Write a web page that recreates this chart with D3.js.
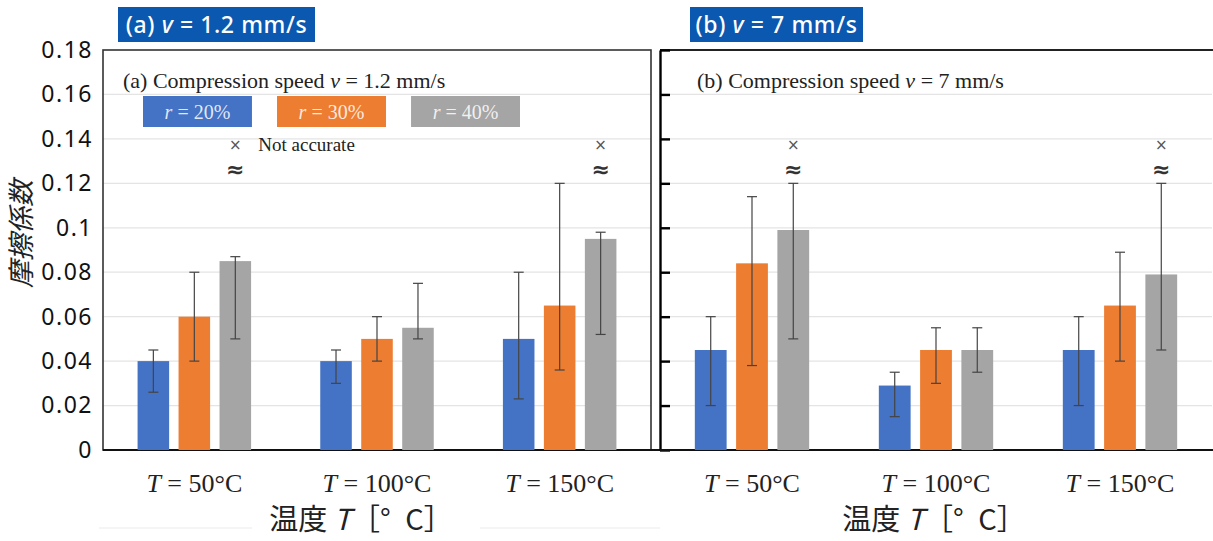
<!DOCTYPE html>
<html>
<head>
<meta charset="utf-8">
<script src="https://cdn.jsdelivr.net/npm/d3@7"></script>
<style>
  body { margin: 0; background: #fff; }
  svg { display: block; }
</style>
</head>
<body>
<svg id="chart"></svg>
<script>
// categories and series
const temps = ['50°C', '100°C', '150°C'];
const ratios = ['20%', '30%', '40%'];
const yTicks = [0, 0.02, 0.04, 0.06, 0.08, 0.1, 0.12, 0.14, 0.16, 0.18];

// (a) v = 1.2 mm/s : rows = r20, r30, r40 ; cols = 50, 100, 150 °C
const meanA = [[0.040, 0.040, 0.050], [0.060, 0.050, 0.065], [0.085, 0.055, 0.095]];
const lowA  = [[0.026, 0.030, 0.023], [0.040, 0.040, 0.036], [0.050, 0.050, 0.052]];
const highA = [[0.045, 0.045, 0.080], [0.080, 0.060, 0.120], [0.087, 0.075, 0.098]];
const flagA = [[false, false, false], [false, false, false], [true, false, true]];

// (b) v = 7 mm/s
const meanB = [[0.045, 0.029, 0.045], [0.084, 0.045, 0.065], [0.099, 0.045, 0.079]];
const lowB  = [[0.020, 0.015, 0.020], [0.038, 0.030, 0.040], [0.050, 0.035, 0.045]];
const highB = [[0.060, 0.035, 0.060], [0.114, 0.055, 0.089], [0.120, 0.055, 0.120]];
const flagB = [[false, false, false], [false, false, false], [true, false, true]];

const colors = ['#4472C4', '#ED7D31', '#A5A5A5'];

const svg = d3.select('#chart').attr('width', 1213).attr('height', 541);

class Panel {
  constructor(_config, _mean, _low, _high, _flags) {
    this.config = {
      left: _config.left,
      right: _config.right,
      top: 50,
      bottom: 450,
      boxed: _config.boxed,
      badge: _config.badge,
      badgeX: _config.badgeX,
      badgeW: _config.badgeW,
      title: _config.title,
      titleX: _config.titleX,
      xTitleX: _config.xTitleX,
      legend: _config.legend || false
    };
    this.mean = _mean;
    this.low = _low;
    this.high = _high;
    this.flags = _flags;
    this.initVis();
  }

  initVis() {
    let vis = this;
    const c = vis.config;

    vis.x0 = d3.scaleBand().domain(temps).range([c.left, c.right])
        .paddingInner(0.327).paddingOuter(0.1635);
    vis.x1 = d3.scaleBand().domain(ratios).range([0, vis.x0.bandwidth()])
        .paddingInner(0.23).paddingOuter(0.115);
    vis.y = d3.scaleLinear().domain([0, 0.18]).range([c.bottom, c.top]);

    vis.g = svg.append('g');

    // gridlines
    vis.g.append('g').selectAll('line')
      .data(yTicks.filter(d => d > 0 && d < 0.18))
      .join('line')
        .attr('x1', c.left).attr('x2', c.right)
        .attr('y1', d => vis.y(d)).attr('y2', d => vis.y(d))
        .attr('stroke', '#e4e4e4').attr('stroke-width', 1.2);

    // frame
    if (c.boxed) {
      vis.g.append('rect')
        .attr('x', c.left).attr('y', c.top)
        .attr('width', c.right - c.left).attr('height', c.bottom - c.top)
        .attr('fill', 'none').attr('stroke', '#333').attr('stroke-width', 1.6);

      vis.yAxis = d3.axisLeft(vis.y).tickValues(yTicks).tickSize(0).tickPadding(10)
        .tickFormat(d => d === 0 ? '0' : String(+d.toFixed(2)));
      vis.yAxisG = vis.g.append('g')
        .attr('transform', `translate(${c.left},0)`)
        .call(vis.yAxis);
      vis.yAxisG.select('.domain').remove();
      vis.yAxisG.selectAll('text')
        .attr('font-family', '"Noto Sans", sans-serif')
        .attr('font-size', 23).attr('letter-spacing', 1.5).attr('fill', '#111');
    } else {
      vis.g.append('line')
        .attr('x1', c.left).attr('x2', c.right + 10)
        .attr('y1', c.top).attr('y2', c.top)
        .attr('stroke', '#222').attr('stroke-width', 2);
      vis.yAxis = d3.axisRight(vis.y).tickValues(yTicks).tickSize(10).tickSizeOuter(0).tickFormat('');
      vis.yAxisG = vis.g.append('g')
        .attr('transform', `translate(${c.left},0)`)
        .call(vis.yAxis);
      vis.yAxisG.selectAll('line, path').attr('stroke', '#000').attr('stroke-width', 2.4);
    }

    // x axis
    vis.xAxis = d3.axisBottom(vis.x0).tickSize(0).tickPadding(24);
    vis.xAxisG = vis.g.append('g')
      .attr('transform', `translate(0,${c.bottom})`)
      .call(vis.xAxis);
    vis.xAxisG.select('.domain').attr('stroke', '#111').attr('stroke-width', 2)
      .attr('d', `M${c.left},0H${c.right + 10}`);
    vis.xAxisG.selectAll('.tick text').each(function(d) {
      const t = d3.select(this).text(null)
        .attr('font-family', '"Liberation Serif", serif')
        .attr('font-size', 26).attr('fill', '#222');
      t.append('tspan').attr('font-style', 'italic').text('T');
      t.append('tspan').text(' = ' + d);
    });

    vis.renderVis();
  }

  renderVis() {
    let vis = this;
    const c = vis.config;

    const cells = [];
    ratios.forEach((r, s) => temps.forEach((t, i) => {
      cells.push({ r, t, s, mean: vis.mean[s][i], low: vis.low[s][i], high: vis.high[s][i],
                   flag: vis.flags[s][i] });
    }));
    const cx = d => vis.x0(d.t) + vis.x1(d.r) + vis.x1.bandwidth() / 2;

    vis.g.append('g').selectAll('rect')
      .data(cells)
      .join('rect')
        .attr('x', d => vis.x0(d.t) + vis.x1(d.r))
        .attr('width', vis.x1.bandwidth())
        .attr('y', d => vis.y(d.mean))
        .attr('height', d => vis.y(0) - vis.y(d.mean))
        .attr('fill', d => colors[d.s]);

    const err = vis.g.append('g').attr('stroke', '#444').attr('stroke-width', 1.2);
    err.selectAll('.stem').data(cells).join('line').attr('class', 'stem')
      .attr('x1', cx).attr('x2', cx)
      .attr('y1', d => vis.y(d.low)).attr('y2', d => vis.y(d.high));
    ['low', 'high'].forEach(k => {
      err.selectAll('.cap-' + k).data(cells).join('line').attr('class', 'cap-' + k)
        .attr('x1', d => cx(d) - 5).attr('x2', d => cx(d) + 5)
        .attr('y1', d => vis.y(d[k])).attr('y2', d => vis.y(d[k]));
    });

    // not-accurate marks
    const flagged = cells.filter(d => d.flag);
    vis.g.append('g').selectAll('text.x').data(flagged).join('text').attr('class', 'x')
      .attr('x', cx).attr('y', vis.y(0.1375)).attr('dy', '0.35em')
      .attr('text-anchor', 'middle').attr('font-family', '"DejaVu Sans", sans-serif')
      .attr('font-size', 15).attr('fill', '#555').text('×');
    vis.g.append('g').selectAll('text.approx').data(flagged).join('text').attr('class', 'approx')
      .attr('x', cx).attr('y', vis.y(0.1262)).attr('dy', '0.35em')
      .attr('text-anchor', 'middle').attr('font-family', '"DejaVu Sans", sans-serif')
      .attr('font-size', 22).attr('font-weight', 'bold').attr('fill', '#333').text('≈');

    // inner title
    const ti = vis.g.append('text')
      .attr('x', c.titleX).attr('y', 88)
      .attr('font-family', '"Liberation Serif", serif')
      .attr('font-size', 22).attr('fill', '#222');
    ti.append('tspan').text(c.title[0]);
    ti.append('tspan').attr('font-style', 'italic').text('v');
    ti.append('tspan').text(c.title[1]);

    if (c.legend) {
      const lx = d3.scaleBand().domain(ratios).range([143, 520]).paddingInner(0.187);
      const lg = vis.g.append('g').selectAll('g').data(ratios).join('g')
        .attr('transform', d => `translate(${lx(d)},96)`);
      lg.append('rect').attr('width', lx.bandwidth()).attr('height', 31)
        .attr('fill', (d, i) => colors[i]);
      const lt = lg.append('text').attr('x', lx.bandwidth() / 2).attr('y', 23)
        .attr('text-anchor', 'middle')
        .attr('font-family', '"Liberation Serif", serif').attr('font-size', 20)
        .attr('fill', 'rgba(255,255,255,0.85)');
      lt.append('tspan').attr('font-style', 'italic').text('r');
      lt.append('tspan').text(d => ' = ' + d);

      const first = flagged[0];
      vis.g.append('text')
        .attr('x', cx(first) + 23).attr('y', vis.y(0.1375)).attr('dy', '0.33em')
        .attr('font-family', '"Liberation Serif", serif').attr('font-size', 19)
        .attr('fill', '#222').text('Not accurate');
    }

    // badge
    const bg = vis.g.append('g').attr('transform', `translate(${c.badgeX},7)`);
    bg.append('rect').attr('width', c.badgeW).attr('height', 35).attr('fill', '#0a58b0');
    const bt = bg.append('text').attr('x', c.badgeW / 2).attr('y', 25.5).attr('text-anchor', 'middle')
      .attr('font-family', '"Noto Sans", sans-serif').attr('font-size', 23)
      .attr('letter-spacing', 0.6).attr('font-weight', 500).attr('fill', '#fff');
    bt.append('tspan').text(c.badge[0]);
    bt.append('tspan').attr('font-style', 'italic').text('v');
    bt.append('tspan').text(c.badge[1]);

    // x title
    const xt = vis.g.append('text').attr('x', c.xTitleX).attr('y', 530).attr('text-anchor', 'middle')
      .attr('font-family', '"Noto Sans CJK JP", sans-serif').attr('font-size', 29).attr('fill', '#222');
    xt.append('tspan').text('温度 ');
    xt.append('tspan').attr('font-style', 'italic').text('T');
    xt.append('tspan').text('［°\u2002C］');
  }
}

// faint rules near the left x title
svg.append('g').attr('stroke', '#ececec').attr('stroke-width', 1.2)
  .selectAll('line').data([[99, 252], [480, 660]]).join('line')
  .attr('x1', d => d[0]).attr('x2', d => d[1]).attr('y1', 528).attr('y2', 528);

new Panel({ left: 103, right: 651, boxed: true, legend: true,
  badge: ['(a) ', ' = 1.2 mm/s'], badgeX: 118, badgeW: 197,
  title: ['(a) Compression speed  ', ' = 1.2 mm/s'], titleX: 123, xTitleX: 361 },
  meanA, lowA, highA, flagA);

new Panel({ left: 660, right: 1212, boxed: false,
  badge: ['(b) ', ' = 7 mm/s'], badgeX: 690, badgeW: 173,
  title: ['(b) Compression speed ', ' = 7 mm/s'], titleX: 697, xTitleX: 934 },
  meanB, lowB, highB, flagB);

// y title
svg.append('text')
  .attr('transform', 'translate(31,234) rotate(-90)')
  .attr('text-anchor', 'middle')
  .attr('font-family', '"Noto Sans CJK JP", sans-serif')
  .attr('font-size', 27).attr('font-style', 'italic').attr('fill', '#222')
  .text('摩擦係数');
</script>
</body>
</html>
